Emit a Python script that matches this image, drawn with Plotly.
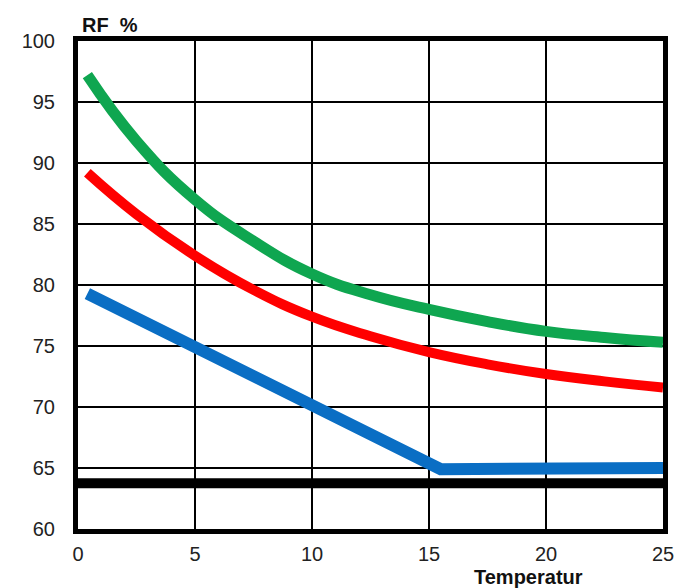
import plotly.graph_objects as go

temp_curve = [0.4, 2.5, 5, 7.5, 10, 12.5, 15, 17.5, 20, 22.5, 25]
rf_green = [97.2, 91.8, 87.0, 83.6, 80.9, 79.2, 78.0, 77.0, 76.2, 75.7, 75.3]
rf_red = [89.2, 85.8, 82.4, 79.6, 77.4, 75.8, 74.5, 73.5, 72.7, 72.1, 71.6]
temp_blue = [0.4, 15.5, 25]
rf_blue = [79.3, 64.9, 65.0]
temp_black = [0, 25]
rf_black = [63.75, 63.75]
x_ticks = [0, 5, 10, 15, 20, 25]
y_ticks = [60, 65, 70, 75, 80, 85, 90, 95, 100]

fig = go.Figure()
fig.add_trace(go.Scatter(x=temp_black, y=rf_black, mode="lines",
                         line=dict(color="black", width=10), showlegend=False))
fig.add_trace(go.Scatter(x=temp_blue, y=rf_blue, mode="lines",
                         line=dict(color="#0a6ec4", width=12), showlegend=False))
fig.add_trace(go.Scatter(x=temp_curve, y=rf_red, mode="lines",
                         line=dict(color="#ff0000", width=10, shape="spline", smoothing=1.3),
                         showlegend=False))
fig.add_trace(go.Scatter(x=temp_curve, y=rf_green, mode="lines",
                         line=dict(color="#0fa650", width=11, shape="spline", smoothing=1.3),
                         showlegend=False))

tick_font = dict(family="Liberation Sans, Arial, sans-serif", size=20, color="#222")
fig.update_layout(
    width=685, height=588,
    margin=dict(l=78, r=22, t=41, b=59, autoexpand=False),
    paper_bgcolor="white", plot_bgcolor="white",
    xaxis=dict(range=[0, 25], tickvals=x_ticks, showgrid=True, gridcolor="black", gridwidth=2,
               showline=True, linecolor="black", linewidth=5, mirror=True, automargin=False,
               zeroline=False, tickfont=tick_font, ticks="", ticklabelstandoff=3),
    yaxis=dict(range=[60, 100], tickvals=y_ticks, showgrid=True, gridcolor="black", gridwidth=2,
               showline=True, linecolor="black", linewidth=5, mirror=True, automargin=False,
               zeroline=False, tickfont=tick_font, ticks="", ticklabelstandoff=14),
    annotations=[
        dict(text="<b>RF  %</b>", xref="paper", yref="paper", x=0.0, y=1.0,
             xanchor="left", yanchor="bottom", showarrow=False, yshift=3, xshift=2,
             font=dict(family="Liberation Sans, Arial, sans-serif", size=20, color="#111")),
        dict(text="<b>Temperatur</b>", xref="paper", yref="paper", x=0.77, y=0.0,
             xanchor="center", yanchor="top", showarrow=False, yshift=-35,
             font=dict(family="Liberation Sans, Arial, sans-serif", size=20, color="#111")),
    ],
)
fig.write_html("out.html", config={"displayModeBar": False},
               post_script="document.body.style.margin='0';document.body.style.overflow='hidden';")
